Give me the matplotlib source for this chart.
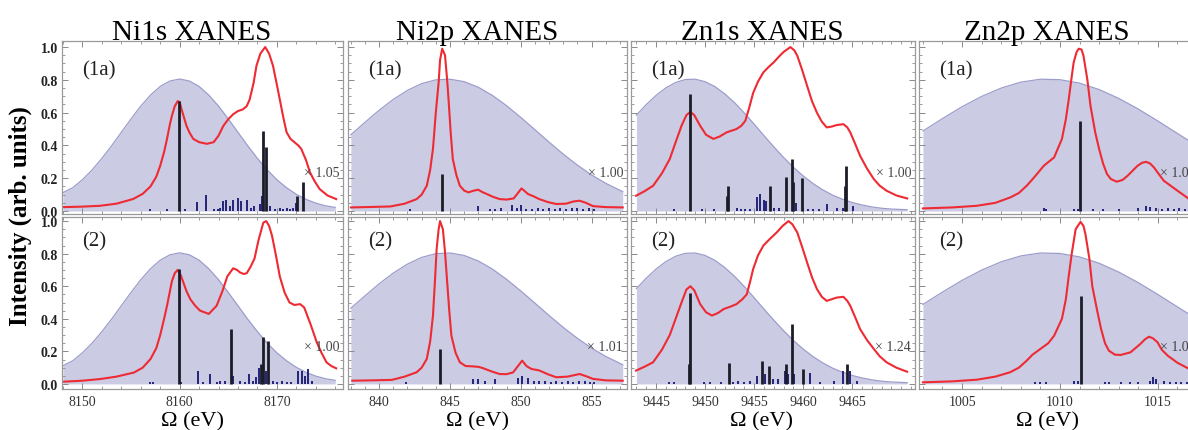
import numpy as np
import matplotlib
matplotlib.use('Agg')
import matplotlib.pyplot as plt
from matplotlib.ticker import MultipleLocator, FixedLocator, FormatStrFormatter
import matplotlib.transforms as mtransforms

plt.rcParams['font.family'] = ['Liberation Serif', 'DejaVu Serif']

# ---------------- data ----------------
titles = ["Ni1s XANES", "Ni2p XANES", "Zn1s XANES", "Zn2p XANES"]
row_labels = ["(1a)", "(2)"]
scale_labels = [["\u00d7 1.05", "\u00d7 1.00", "\u00d7 1.00", "\u00d7 1.00"],
                ["\u00d7 1.00", "\u00d7 1.01", "\u00d7 1.24", "\u00d7 1.00"]]
xlabel = "\u03a9 (eV)"
ylabel = "Intensity (arb. units)"
xlims = [(8147.9, 8176.8), (837.8, 857.5), (9442.45, 9471.4), (1002.8, 1017.1)]
x_ticks = [[8150, 8160, 8170], [840, 845, 850, 855],
           [9445, 9450, 9455, 9460, 9465], [1005, 1010, 1015]]
x_minor = [2, 1, 1, 1]

# excitation envelope (same for both rows in a column)
env_ni1s_E = [8148, 8149, 8150, 8151, 8152, 8153, 8154, 8155, 8156, 8157, 8158, 8159, 8160,
              8161, 8162, 8163, 8164, 8165, 8166, 8167, 8168, 8169, 8170, 8171, 8172, 8173,
              8174, 8175, 8176]
env_ni1s_v = [0.112, 0.142, 0.191, 0.251, 0.321, 0.398, 0.480, 0.562, 0.640, 0.707, 0.760, 0.793,
              0.805, 0.793, 0.760, 0.707, 0.640, 0.562, 0.480, 0.398, 0.321, 0.251, 0.191, 0.142,
              0.102, 0.071, 0.048, 0.032, 0.022]
env_ni2p_E = [838, 839, 840, 841, 842, 843, 844, 845, 846, 847, 848, 849, 850, 851, 852, 853,
              854, 855, 856, 857.2]
env_ni2p_v = [0.465, 0.541, 0.615, 0.681, 0.736, 0.777, 0.800, 0.804, 0.789, 0.755, 0.705, 0.642,
              0.571, 0.496, 0.420, 0.347, 0.280, 0.220, 0.169, 0.118]
env_zn1s_E = [9443, 9444, 9445, 9446, 9447, 9448, 9449, 9450, 9451, 9452, 9453, 9454, 9455,
              9456, 9457, 9458, 9459, 9460, 9461, 9462, 9463, 9464, 9465, 9466, 9467, 9468,
              9469, 9470.6]
env_zn1s_v = [0.585, 0.649, 0.705, 0.751, 0.784, 0.802, 0.804, 0.789, 0.759, 0.715, 0.661, 0.598,
              0.530, 0.460, 0.392, 0.327, 0.267, 0.214, 0.168, 0.129, 0.097, 0.072, 0.052, 0.037,
              0.025, 0.017, 0.012, 0.008]
env_zn2p_E = [1003, 1004, 1005, 1006, 1007, 1008, 1009, 1010, 1011, 1012, 1013, 1014, 1015,
              1016, 1017, 1018]
env_zn2p_v = [0.488, 0.564, 0.636, 0.699, 0.750, 0.786, 0.804, 0.801, 0.780, 0.741, 0.687, 0.622,
              0.549, 0.473, 0.398, 0.327]

# red spectra
ni1s_a_E = [8148.1, 8150.0, 8151.8, 8153.5, 8155.2, 8156.2, 8157.0, 8157.6, 8158.0, 8158.4, 8158.7,
            8159.0, 8159.2, 8159.5, 8159.8, 8160.0, 8160.2, 8160.5, 8160.7, 8161.0, 8161.4, 8162.0,
            8162.8, 8163.5, 8164.0, 8164.5, 8165.0, 8165.5, 8166.0, 8166.5, 8166.9, 8167.2, 8167.6,
            8167.9, 8168.3, 8168.8, 8169.2, 8169.6, 8170.0, 8170.3, 8170.7, 8171.0, 8171.4, 8171.8,
            8172.2, 8172.5, 8173.0, 8173.4, 8173.9, 8174.4, 8175.2, 8176.1]
ni1s_a_v = [0.024, 0.027, 0.032, 0.045, 0.073, 0.105, 0.15, 0.21, 0.276, 0.36, 0.44,
            0.53, 0.58, 0.64, 0.67, 0.665, 0.62, 0.56, 0.52, 0.48, 0.44, 0.42,
            0.41, 0.42, 0.46, 0.52, 0.56, 0.59, 0.61, 0.62, 0.64, 0.68, 0.78,
            0.886, 0.96, 1.0, 0.96, 0.886, 0.77, 0.68, 0.56, 0.48, 0.44, 0.42,
            0.40, 0.38, 0.31, 0.236, 0.18, 0.134, 0.095, 0.073]
ni1s_b_E = [8148.1, 8150.0, 8151.8, 8153.5, 8155.3, 8156.2, 8157.0, 8157.6, 8158.0, 8158.4, 8158.7,
            8159.0, 8159.2, 8159.5, 8159.8, 8160.1, 8160.4, 8160.7, 8161.1, 8161.6, 8162.1, 8163.0,
            8163.8, 8164.4, 8164.9, 8165.5, 8165.9, 8166.2, 8166.6, 8166.9, 8167.3, 8167.7, 8168.1,
            8168.6, 8168.9, 8169.2, 8169.5, 8169.9, 8170.3, 8170.8, 8171.3, 8171.8, 8172.4, 8172.8,
            8173.0, 8173.5, 8174.1, 8174.6, 8175.1, 8175.6, 8176.1]
ni1s_b_v = [0.014, 0.02, 0.03, 0.045, 0.07, 0.10, 0.153, 0.22, 0.30, 0.40, 0.48,
            0.57, 0.63, 0.68, 0.70, 0.67, 0.62, 0.57, 0.52, 0.48, 0.45, 0.43,
            0.48, 0.57, 0.66, 0.71, 0.70, 0.685, 0.675, 0.68, 0.72, 0.77, 0.88,
            0.99, 1.0, 0.97, 0.91, 0.79, 0.66, 0.56, 0.50, 0.485, 0.49, 0.47,
            0.44, 0.36, 0.256, 0.19, 0.133, 0.11, 0.096]
ni2p_a_E = [838.0, 839.5, 840.8, 841.8, 842.65, 843.0, 843.36, 843.6, 843.8, 844.0, 844.2, 844.3,
            844.45, 844.65, 844.8, 844.9, 845.05, 845.2, 845.45, 845.7, 846.0, 846.3, 846.7, 847.0,
            847.3, 847.6, 848.0, 848.5, 849.0, 849.5, 849.8, 850.05, 850.3, 850.5, 850.9, 851.3,
            851.9, 852.5, 853.2, 853.7, 854.15, 854.6, 855.1, 856.0, 857.2]
ni2p_a_v = [0.022, 0.025, 0.028, 0.045, 0.073, 0.10, 0.154, 0.25, 0.38, 0.60, 0.785, 0.92,
            0.99, 0.95, 0.80, 0.68, 0.48, 0.317, 0.22, 0.154, 0.125, 0.114, 0.125, 0.13,
            0.115, 0.104, 0.088, 0.073, 0.07, 0.077, 0.11, 0.138, 0.12, 0.104, 0.09, 0.073,
            0.055, 0.043, 0.045, 0.058, 0.063, 0.05, 0.03, 0.024, 0.022]
ni2p_b_E = [838.1, 839.5, 840.9, 841.8, 842.65, 843.0, 843.36, 843.6, 843.8, 843.95, 844.06, 844.2,
            844.3, 844.5, 844.65, 844.77, 844.95, 845.1, 845.4, 845.7, 846.1, 846.6, 847.0, 847.3,
            847.9, 848.5, 849.0, 849.46, 849.8, 850.1, 850.4, 850.75, 851.3, 851.9, 852.5, 853.3,
            854.15, 854.6, 855.1, 856.0, 857.2]
ni2p_b_v = [0.02, 0.022, 0.025, 0.045, 0.072, 0.10, 0.153, 0.26, 0.42, 0.65, 0.83, 0.95,
            1.0, 0.95, 0.81, 0.665, 0.45, 0.296, 0.19, 0.133, 0.11, 0.108, 0.105, 0.098,
            0.078, 0.061, 0.06, 0.071, 0.11, 0.143, 0.11, 0.092, 0.083, 0.06, 0.041, 0.045,
            0.061, 0.048, 0.031, 0.022, 0.02]
zn1s_a_E = [9442.96, 9443.8, 9444.7, 9445.6, 9446.4, 9447.0, 9447.6, 9448.1, 9448.5, 9448.9, 9449.5,
            9450.1, 9450.85, 9451.5, 9452.2, 9453.2, 9453.7, 9454.1, 9454.5, 9454.9, 9455.4,
            9455.95, 9456.5, 9457.0, 9457.5, 9458.0, 9458.7, 9459.1, 9459.4, 9459.9, 9460.4,
            9460.9, 9461.4, 9461.9, 9462.4, 9462.9, 9463.4, 9464.1, 9464.5, 9464.8, 9465.3,
            9465.8, 9466.5, 9467.2, 9467.8, 9468.5, 9469.5, 9470.6]
zn1s_a_v = [0.093, 0.12, 0.154, 0.23, 0.317, 0.42, 0.52, 0.585, 0.605, 0.585, 0.52,
            0.465, 0.44, 0.455, 0.48, 0.50, 0.52, 0.55, 0.63, 0.72, 0.79,
            0.846, 0.88, 0.907, 0.94, 0.97, 1.0, 0.98, 0.947, 0.86, 0.764,
            0.67, 0.60, 0.545, 0.51, 0.515, 0.524, 0.53, 0.51, 0.48, 0.41,
            0.337, 0.26, 0.195, 0.155, 0.124, 0.095, 0.077]
zn1s_b_E = [9442.96, 9443.8, 9444.7, 9445.6, 9446.4, 9447.0, 9447.6, 9448.1, 9448.5, 9448.9, 9449.5,
            9450.1, 9450.7, 9451.3, 9451.9, 9452.6, 9453.2, 9453.8, 9454.25, 9454.6, 9454.9,
            9455.4, 9455.95, 9456.6, 9457.3, 9457.9, 9458.5, 9458.9, 9459.4, 9459.9, 9460.4,
            9460.9, 9461.4, 9461.9, 9462.4, 9462.9, 9463.4, 9464.1, 9464.5, 9464.8, 9465.3,
            9465.8, 9466.5, 9467.2, 9467.8, 9468.5, 9469.5, 9470.6]
zn1s_b_v = [0.082, 0.105, 0.133, 0.21, 0.30, 0.40, 0.50, 0.58, 0.60, 0.575, 0.49,
            0.44, 0.42, 0.435, 0.46, 0.475, 0.49, 0.52, 0.55, 0.63, 0.705,
            0.79, 0.85, 0.89, 0.93, 0.97, 1.0, 0.98, 0.93, 0.84, 0.746,
            0.655, 0.583, 0.535, 0.51, 0.52, 0.53, 0.535, 0.51, 0.48, 0.41,
            0.337, 0.27, 0.215, 0.17, 0.133, 0.10, 0.075]
zn2p_a_E = [1003.0, 1004.5, 1005.75, 1006.7, 1007.46, 1007.9, 1008.3, 1008.75, 1009.17, 1009.7,
            1010.1, 1010.3, 1010.45, 1010.6, 1010.7, 1010.85, 1010.96, 1011.1, 1011.2, 1011.4,
            1011.56, 1011.8, 1012.0, 1012.2, 1012.4, 1012.6, 1012.9, 1013.2, 1013.45, 1013.96,
            1014.2, 1014.4, 1014.6, 1014.8, 1015.05, 1015.3, 1016.0, 1016.6, 1017.0]
zn2p_a_v = [0.016, 0.022, 0.032, 0.05, 0.083, 0.11, 0.154, 0.215, 0.276, 0.327,
            0.44, 0.56, 0.683, 0.82, 0.907, 0.97, 0.99, 0.985, 0.947, 0.80,
            0.64, 0.48, 0.378, 0.29, 0.226, 0.195, 0.179, 0.19, 0.215, 0.276,
            0.295, 0.30, 0.29, 0.266, 0.225, 0.185, 0.124, 0.073, 0.06]
zn2p_b_E = [1003.0, 1004.5, 1005.75, 1006.7, 1007.46, 1007.9, 1008.3, 1008.6, 1009.0, 1009.4,
            1009.7, 1010.1, 1010.3, 1010.45, 1010.6, 1010.8, 1011.05, 1011.2, 1011.3, 1011.5,
            1011.65, 1011.9, 1012.1, 1012.3, 1012.5, 1012.8, 1013.1, 1013.6, 1014.1, 1014.35,
            1014.55, 1014.75, 1014.98, 1015.2, 1015.5, 1016.0, 1016.6, 1017.0]
zn2p_b_v = [0.01, 0.016, 0.026, 0.045, 0.072, 0.10, 0.143, 0.18, 0.215, 0.25,
            0.296, 0.40, 0.52, 0.665, 0.80, 0.95, 0.995, 0.97, 0.92, 0.77,
            0.60, 0.45, 0.337, 0.25, 0.204, 0.18, 0.178, 0.194, 0.245, 0.275,
            0.29, 0.28, 0.256, 0.21, 0.174, 0.13, 0.092, 0.075]

# black sticks
ni1s_a_kE = [8159.9, 8168.6, 8168.9, 8172.1, 8172.7]
ni1s_a_kh = [0.67, 0.49, 0.39, 0.093, 0.175]
ni1s_b_kE = [8159.9, 8165.3, 8168.4, 8168.6, 8169.1]
ni1s_b_kh = [0.705, 0.337, 0.12, 0.287, 0.265]
ni2p_a_kE = [844.45]
ni2p_a_kh = [0.226]
ni2p_b_kE = [844.3]
ni2p_b_kh = [0.215]
zn1s_a_kE = [9448.5, 9452.2, 9452.3, 9456.6, 9458.2, 9458.9, 9459.0, 9459.9, 9464.3, 9464.4]
zn1s_a_kh = [0.713, 0.09, 0.154, 0.155, 0.21, 0.317, 0.18, 0.20, 0.15, 0.276]
zn1s_b_kE = [9448.35, 9448.45, 9452.4, 9455.8, 9456.5, 9458.3, 9458.9, 9460.0, 9464.5]
zn1s_b_kh = [0.12, 0.56, 0.129, 0.143, 0.11, 0.12, 0.368, 0.09, 0.125]
zn2p_a_kE = [1011.0]
zn2p_a_kh = [0.55]
zn2p_b_kE = [1011.05]
zn2p_b_kh = [0.54]

# blue (small) sticks
ni1s_a_bE = [8157.0, 8158.7, 8160.6, 8161.8, 8162.7, 8163.5, 8163.9, 8164.2, 8164.5, 8164.8,
             8165.2, 8165.5, 8166.0, 8166.3, 8166.9, 8167.3, 8167.6, 8168.3, 8168.5, 8169.3,
             8169.8, 8170.3, 8170.6, 8171.0, 8171.4, 8171.7, 8172.0]
ni1s_a_bh = [0.01, 0.01, 0.01, 0.057, 0.098, 0.012, 0.015, 0.02, 0.06, 0.07,
             0.03, 0.07, 0.077, 0.06, 0.07, 0.02, 0.03, 0.04, 0.09, 0.03,
             0.015, 0.02, 0.015, 0.02, 0.015, 0.02, 0.05]
ni1s_b_bE = [8157.0, 8157.3, 8160.1, 8161.9, 8162.4, 8163.1, 8163.8, 8164.2, 8164.7, 8165.5,
             8166.2, 8166.7, 8167.1, 8167.5, 8167.9, 8168.2, 8168.9, 8169.6, 8170.0, 8170.5,
             8171.0, 8171.5, 8172.2, 8172.6, 8172.9, 8173.2, 8173.6]
ni1s_b_bh = [0.01, 0.01, 0.01, 0.08, 0.015, 0.06, 0.015, 0.02, 0.02, 0.05,
             0.02, 0.015, 0.06, 0.02, 0.04, 0.10, 0.08, 0.02, 0.015, 0.02,
             0.015, 0.015, 0.08, 0.08, 0.05, 0.09, 0.02]
ni2p_a_bE = [842.2, 847.0, 847.8, 848.2, 848.6, 849.4, 849.7, 850.0, 850.4, 850.8, 851.2,
             851.6, 852.0, 852.4, 852.8, 853.2, 853.6, 854.0, 854.4, 854.8, 855.2]
ni2p_a_bh = [0.01, 0.03, 0.015, 0.015, 0.02, 0.035, 0.02, 0.035, 0.015, 0.015, 0.02,
             0.015, 0.02, 0.015, 0.02, 0.015, 0.02, 0.02, 0.015, 0.02, 0.015]
ni2p_b_bE = [841.9, 846.6, 847.0, 847.5, 848.2, 849.8, 850.1, 850.5, 850.9, 851.3, 851.7,
             852.1, 852.5, 852.9, 853.3, 853.7, 854.1, 854.5, 854.9, 855.2]
ni2p_b_bh = [0.01, 0.03, 0.03, 0.02, 0.03, 0.035, 0.05, 0.035, 0.02, 0.02, 0.02,
             0.015, 0.02, 0.015, 0.02, 0.015, 0.02, 0.02, 0.015, 0.015]
zn1s_a_bE = [9446.8, 9449.7, 9450.9, 9453.3, 9453.7, 9454.1, 9454.6, 9455.3, 9455.6, 9456.0,
             9456.2, 9457.0, 9457.5, 9459.3, 9460.5, 9461.0, 9461.6, 9462.4, 9463.4, 9464.1,
             9465.1]
zn1s_a_bh = [0.01, 0.01, 0.01, 0.02, 0.012, 0.015, 0.015, 0.083, 0.104, 0.07,
             0.06, 0.02, 0.02, 0.05, 0.01, 0.01, 0.01, 0.04, 0.02, 0.02,
             0.03]
zn1s_b_bE = [9446.3, 9446.8, 9449.9, 9450.5, 9451.6, 9452.8, 9453.4, 9454.0, 9454.6, 9455.3,
             9456.1, 9456.9, 9457.4, 9458.1, 9458.5, 9459.1, 9460.7, 9461.7, 9463.1, 9464.1,
             9464.8, 9465.5]
zn1s_b_bh = [0.01, 0.01, 0.01, 0.01, 0.01, 0.015, 0.02, 0.015, 0.02, 0.05,
             0.06, 0.03, 0.03, 0.08, 0.06, 0.06, 0.07, 0.01, 0.02, 0.08,
             0.08, 0.02]
zn2p_a_bE = [1009.2, 1009.3, 1010.7, 1010.9, 1011.7, 1012.2, 1013.0, 1014.0, 1014.4, 1014.6,
             1014.9, 1015.2, 1015.5, 1015.8, 1016.1, 1016.4, 1016.7]
zn2p_a_bh = [0.02, 0.015, 0.015, 0.015, 0.01, 0.01, 0.01, 0.02, 0.03, 0.025,
             0.02, 0.015, 0.02, 0.015, 0.02, 0.015, 0.015]
zn2p_b_bE = [1008.7, 1009.0, 1009.3, 1010.7, 1010.9, 1012.3, 1012.5, 1013.1, 1013.6, 1014.0,
             1014.6, 1014.75, 1014.9, 1015.3, 1015.6, 1015.9, 1016.2, 1016.5, 1016.8]
zn2p_b_bh = [0.015, 0.015, 0.015, 0.02, 0.02, 0.01, 0.01, 0.015, 0.015, 0.015,
             0.02, 0.04, 0.03, 0.02, 0.015, 0.015, 0.015, 0.015, 0.015]

envelopes = [(env_ni1s_E, env_ni1s_v), (env_ni2p_E, env_ni2p_v),
             (env_zn1s_E, env_zn1s_v), (env_zn2p_E, env_zn2p_v)]
spectra = [[(ni1s_a_E, ni1s_a_v), (ni2p_a_E, ni2p_a_v), (zn1s_a_E, zn1s_a_v), (zn2p_a_E, zn2p_a_v)],
           [(ni1s_b_E, ni1s_b_v), (ni2p_b_E, ni2p_b_v), (zn1s_b_E, zn1s_b_v), (zn2p_b_E, zn2p_b_v)]]
black_sticks = [[(ni1s_a_kE, ni1s_a_kh), (ni2p_a_kE, ni2p_a_kh), (zn1s_a_kE, zn1s_a_kh), (zn2p_a_kE, zn2p_a_kh)],
                [(ni1s_b_kE, ni1s_b_kh), (ni2p_b_kE, ni2p_b_kh), (zn1s_b_kE, zn1s_b_kh), (zn2p_b_kE, zn2p_b_kh)]]
blue_sticks = [[(ni1s_a_bE, ni1s_a_bh), (ni2p_a_bE, ni2p_a_bh), (zn1s_a_bE, zn1s_a_bh), (zn2p_a_bE, zn2p_a_bh)],
               [(ni1s_b_bE, ni1s_b_bh), (ni2p_b_bE, ni2p_b_bh), (zn1s_b_bE, zn1s_b_bh), (zn2p_b_bE, zn2p_b_bh)]]

# ---------------- layout ----------------
W, H = 1188, 431
fig = plt.figure(figsize=(W / 100, H / 100), dpi=100)
col_px = [(62, 343), (348, 627), (631, 915), (919, 1199)]
row_px = [(42, 215), (218, 390)]
row_ylim = [(-0.018, 1.037), (-0.031, 1.025)]
title_cx = [192, 477, 762, 1047]

fill_c = '#cbcbe4'
edge_c = '#9d9dcc'
red_c = '#ee2a33'
black_c = '#1c1c28'
blue_c = '#23237a'
frame_c = '#9a9a9a'

for r in range(2):
    for c in range(4):
        l, rt = col_px[c]
        t, b = row_px[r]
        ax = fig.add_axes([l / W, 1 - b / H, (rt - l) / W, (b - t) / H])
        eE, ev = envelopes[c]
        ax.fill_between(eE, 0, ev, color=fill_c, lw=0, zorder=1)
        ax.plot(eE, ev, color=edge_c, lw=0.9, zorder=1.5)
        sE, sv = spectra[r][c]
        ax.plot(sE, sv, color=red_c, lw=1.5, zorder=2)
        bE, bh = blue_sticks[r][c]
        ax.vlines(bE, 0, bh, colors=blue_c, lw=1.4, zorder=3)
        kE, kh = black_sticks[r][c]
        ax.vlines(kE, 0, kh, colors=black_c, lw=2.0, zorder=3.5)

        ax.set_xlim(*xlims[c])
        ax.set_ylim(*row_ylim[r])
        ax.xaxis.set_major_locator(FixedLocator(x_ticks[c]))
        ax.xaxis.set_minor_locator(MultipleLocator(x_minor[c]))
        ax.yaxis.set_major_locator(MultipleLocator(0.2))
        ax.yaxis.set_minor_locator(MultipleLocator(0.05))
        ax.yaxis.set_major_formatter(FormatStrFormatter('%.1f'))
        ax.xaxis.set_major_formatter(FormatStrFormatter('%d'))
        ax.tick_params(which='both', direction='in', top=True, right=True, color='#8a8a8a')
        ax.tick_params(which='major', length=4, width=0.7)
        ax.tick_params(which='minor', length=2, width=0.6)
        ax.tick_params(axis='x', labelsize=10, labelcolor='#333333', pad=4)
        ax.tick_params(axis='y', labelsize=10, labelcolor='#222222', pad=3)
        for sp in ax.spines.values():
            sp.set_color(frame_c)
            sp.set_linewidth(0.9)
        if c != 0:
            ax.tick_params(axis='y', labelleft=False)
        else:
            for lab in ax.get_yticklabels():
                lab.set_fontweight('bold')
        if r == 0:
            ax.tick_params(axis='x', labelbottom=False)

        ax.text(20 / (rt - l), 0.832 if r == 0 else 0.86, row_labels[r],
                transform=ax.transAxes, ha='left', va='center', fontsize=15, color='#222222')
        trans = mtransforms.blended_transform_factory(ax.transAxes, ax.transData)
        ax.text(1 - 4 / (rt - l), 0.238 if r == 0 else 0.227, scale_labels[r][c],
                transform=trans, ha='right', va='center', fontsize=10, color='#444444', zorder=5)

for c in range(4):
    fig.text(title_cx[c] / W, 1 - 40 / H, titles[c], ha='center', va='baseline', fontsize=21)
    fig.text(title_cx[c] / W, 1 - 422 / H, xlabel, ha='center', va='center', fontsize=16)

fig.text(20 / W, 1 - 216 / H, ylabel, rotation=90, ha='center', va='center',
         fontsize=18, fontweight='bold')

fig.savefig('out.png', dpi=100)
